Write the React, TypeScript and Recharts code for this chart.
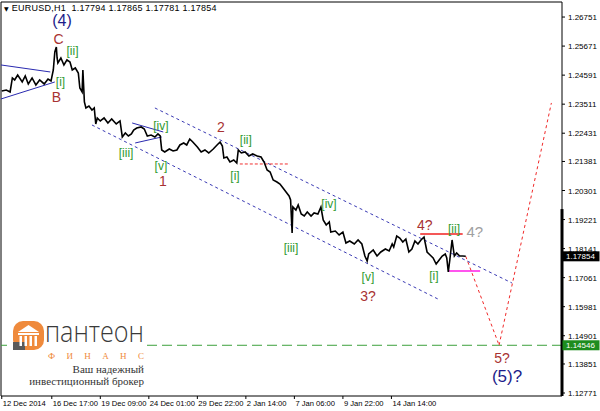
import React from 'react';
import {
  ComposedChart,
  Line,
  XAxis,
  YAxis,
  ReferenceLine,
  ReferenceDot,
  ReferenceArea,
} from 'recharts';

// ---------- data ----------
// EURUSD H1 closes: [bar index, price]
const eurusdH1: [number, number][] = [
  [1, 1.24002], [7, 1.24039], [12, 1.23965], [15, 1.24485], [18, 1.24411], [22, 1.24597],
  [28, 1.24336], [32, 1.2456], [36, 1.24262], [41, 1.24485], [46, 1.24225], [51, 1.24411],
  [57, 1.24262], [62, 1.24448], [66, 1.24374], [69, 1.24783], [71, 1.25452], [73, 1.25638],
  [74, 1.25229], [75, 1.25043], [79, 1.25229], [83, 1.24969], [87, 1.25155], [91, 1.2508],
  [94, 1.24783], [98, 1.24857], [102, 1.24671], [104, 1.24113], [107, 1.23965], [108, 1.24783],
  [110, 1.23593], [112, 1.2337], [116, 1.23444], [120, 1.23295], [123, 1.2337], [125, 1.22775],
  [127, 1.22998], [131, 1.22886], [136, 1.22998], [141, 1.22812], [146, 1.22961], [152, 1.22775],
  [157, 1.22886], [160, 1.22291], [164, 1.2244], [168, 1.22328], [172, 1.22403], [175, 1.22551],
  [179, 1.22626], [185, 1.22663], [189, 1.22589], [193, 1.22328], [198, 1.22365], [203, 1.22291],
  [207, 1.22403], [210, 1.22328], [212, 1.21808], [216, 1.21733], [222, 1.21845], [227, 1.21771],
  [232, 1.21808], [236, 1.21994], [241, 1.22068], [245, 1.21994], [249, 1.22217], [253, 1.22105],
  [259, 1.21919], [264, 1.21733], [269, 1.21808], [274, 1.21696], [280, 1.21845], [285, 1.21994],
  [289, 1.22105], [292, 1.21956], [294, 1.2151], [298, 1.21547], [302, 1.21361], [307, 1.21436],
  [311, 1.21324], [313, 1.21808], [317, 1.21696], [322, 1.21733], [327, 1.21585], [332, 1.21659],
  [338, 1.21585], [343, 1.21547], [347, 1.21361], [351, 1.21064], [355, 1.2099], [359, 1.20692],
  [364, 1.20618], [368, 1.20543], [372, 1.20395], [376, 1.20246], [380, 1.20097], [382, 1.19948],
  [384, 1.18721], [385, 1.19688], [389, 1.19576], [392, 1.19762], [396, 1.19428], [400, 1.19353],
  [404, 1.19502], [409, 1.19353], [413, 1.19465], [418, 1.19428], [422, 1.19688], [425, 1.19205],
  [429, 1.19019], [433, 1.1913], [435, 1.18758], [441, 1.18795], [446, 1.18647], [451, 1.18758],
  [455, 1.18349], [460, 1.18424], [466, 1.18312], [471, 1.18461], [476, 1.18312], [480, 1.17866],
  [483, 1.1768], [485, 1.1794], [491, 1.18089], [496, 1.17866], [501, 1.18015], [507, 1.18126],
  [512, 1.18052], [516, 1.18312], [518, 1.182], [522, 1.1861], [526, 1.18535], [530, 1.18386],
  [534, 1.18498], [538, 1.18015], [542, 1.18126], [546, 1.18424], [550, 1.18312], [554, 1.18461],
  [558, 1.18572], [562, 1.18015], [566, 1.17903], [570, 1.17791], [574, 1.17568], [578, 1.17717],
  [582, 1.17866], [586, 1.1794], [588, 1.17791], [590, 1.17271], [592, 1.17717], [595, 1.18461],
  [598, 1.17866], [601, 1.17977], [605, 1.17866], [609, 1.17866], [613, 1.17854],
];

const xTickBars = [1, 67, 131, 195, 259, 323, 387, 451, 515];
const xTickLabels = [
  '12 Dec 2014', '16 Dec 17:00', '19 Dec 09:00', '24 Dec 01:00', '29 Dec 22:00',
  '2 Jan 14:00', '7 Jan 06:00', '9 Jan 22:00', '14 Jan 14:00',
];
const yTicks = [
  1.12771, 1.13851, 1.14901, 1.15981, 1.17061, 1.18141, 1.19221,
  1.20301, 1.21381, 1.22431, 1.23511, 1.24591, 1.25671, 1.26751,
];

const lastPrice = 1.17854;
const targetLevel = 1.14546;
const headerText = 'EURUSD,H1  1.17794 1.17865 1.17781 1.17854';

// segments: [t1, p1, t2, p2]
const triangleLines: [number, number, number, number][] = [
  [0, 1.24969, 65, 1.24708],
  [0, 1.23704, 71, 1.24336],
  [173, 1.22812, 214, 1.22477],
  [177, 1.22068, 212, 1.22291],
];
const channelLines: [number, number, number, number][] = [
  [203, 1.2337, 674, 1.16862],
  [120, 1.22737, 579, 1.16229],
];
const wave2Level: [number, number, number] = [315, 381, 1.21287];
const wave4Level: [number, number, number] = [553, 609, 1.18684];
const subLevel: [number, number, number] = [590, 632, 1.17308];
const projection: [number, number][] = [
  [613, 1.17854], [657, 1.1455], [726, 1.23556],
];

type Kind = 'navy' | 'red' | 'green' | 'gray' | 'big';
const waveLabels: { text: string; t: number; p: number; kind: Kind }[] = [
  { text: '(4)', t: 80.5, p: 1.26604, kind: 'big' },
  { text: 'C', t: 75.8, p: 1.25936, kind: 'red' },
  { text: '[ii]', t: 94.3, p: 1.25489, kind: 'green' },
  { text: '[i]', t: 78.5, p: 1.24318, kind: 'green' },
  { text: 'B', t: 73.2, p: 1.23779, kind: 'red' },
  { text: '[iv]', t: 211, p: 1.227, kind: 'green' },
  { text: '[iii]', t: 165, p: 1.21696, kind: 'green' },
  { text: '[v]', t: 211, p: 1.21213, kind: 'green' },
  { text: '1', t: 213.7, p: 1.20655, kind: 'red' },
  { text: '2', t: 290, p: 1.22663, kind: 'red' },
  { text: '[ii]', t: 323, p: 1.2218, kind: 'green' },
  { text: '[i]', t: 308.7, p: 1.20841, kind: 'green' },
  { text: '[iii]', t: 382.5, p: 1.18163, kind: 'green' },
  { text: '[iv]', t: 432.7, p: 1.19799, kind: 'green' },
  { text: '[v]', t: 484, p: 1.17085, kind: 'green' },
  { text: '3?', t: 484, p: 1.16378, kind: 'red' },
  { text: '4?', t: 559, p: 1.19019, kind: 'red' },
  { text: '[ii]', t: 597.6, p: 1.1887, kind: 'green' },
  { text: '4?', t: 625, p: 1.18795, kind: 'gray' },
  { text: '[i]', t: 571, p: 1.17122, kind: 'green' },
  { text: '5?', t: 661, p: 1.14073, kind: 'red' },
  { text: '(5)?', t: 667.5, p: 1.13403, kind: 'navy' },
];

// ---------- styles ----------
const FONT = '"Liberation Sans", Arial, sans-serif';
const SERIF = '"Liberation Serif", "DejaVu Serif", serif';
const X_DOMAIN: [number, number] = [0, 740];
const Y_DOMAIN: [number, number] = [1.1266, 1.2731];
const kindStyle: Record<Kind, { fill: string; size: number }> = {
  big: { fill: '#1c1c8a', size: 16 },
  navy: { fill: '#1c1c8a', size: 17 },
  red: { fill: '#a83232', size: 14 },
  green: { fill: '#2f9a2f', size: 12 },
  gray: { fill: '#a0a0a0', size: 15 },
};

const priceData = eurusdH1.map(([t, price]) => ({ t, price }));

function XTick(props: any) {
  const { x, y, payload } = props;
  const i = xTickBars.indexOf(payload.value);
  return (
    <text x={x + 1} y={y + 5} fontSize={7.6} fontFamily={FONT} fill="#000" textAnchor="start">
      {xTickLabels[i]}
    </text>
  );
}

function YTick(props: any) {
  const { x, y, payload } = props;
  return (
    <text x={x} y={y + 3} fontSize={8} fontFamily={FONT} fill="#000" textAnchor="start">
      {payload.value.toFixed(5)}
    </text>
  );
}

function priceTag(value: number, bg: string) {
  return (p: any) => (
    <g>
      <rect x={p.cx + 0.5} y={p.cy - 5} width={37} height={10} fill={bg} />
      <text x={p.cx + 4} y={p.cy + 3} fontSize={8} fontFamily={FONT} fill="#fff">
        {value.toFixed(5)}
      </text>
    </g>
  );
}

function Logo() {
  return (
    <svg width={600} height={411} style={{ position: 'absolute', left: 0, top: 0, pointerEvents: 'none' }}>
      <rect x={12} y={318} width={134} height={70} fill="#fff" />
      <rect x={13} y={321} width={31} height={29} rx={10} fill="#ef8a3c" />
      <rect x={13} y={342} width={12} height={8} fill="#5a5a5a" />
      <polygon points="18,332 28.5,325 39,332" fill="#fff" />
      <rect x={18} y={333} width={21} height={2} fill="#fff" />
      {[19.5, 24.5, 29.5, 34.5].map((cx) => (
        <rect key={cx} x={cx} y={336} width={2.5} height={10} fill="#fff" />
      ))}
      <text
        x={45}
        y={342}
        fontSize={30}
        fontWeight={300}
        fontFamily='"Open Sans", "Noto Sans", sans-serif'
        fill="#3a3a3a"
        textLength={99}
        lengthAdjust="spacingAndGlyphs"
      >
        пантеон
      </text>
      <text x={48} y={359} fontSize={9} fontFamily={SERIF} fill="#ef8a3c" textLength={96} lengthAdjust="spacing">
        ФИНАНС
      </text>
      <text x={144} y={373} fontSize={11} fontFamily={SERIF} fill="#333" textAnchor="end">
        Ваш надежный
      </text>
      <text x={144} y={385} fontSize={11} fontFamily={SERIF} fill="#333" textAnchor="end">
        инвестиционный брокер
      </text>
    </svg>
  );
}

export default function App() {
  return (
    <div style={{ position: 'absolute', left: 0, top: 0, width: 600, height: 411, background: '#fff' }}>
      <ComposedChart
        width={600}
        height={411}
        data={priceData}
        margin={{ top: 2, right: 0, bottom: 0, left: 1 }}
      >
        <XAxis
          dataKey="t"
          type="number"
          domain={X_DOMAIN}
          allowDataOverflow
          ticks={xTickBars}
          interval={0}
          height={15}
          axisLine={false}
          tickLine={{ stroke: '#000' }}
          tickSize={3}
          tickMargin={2}
          tick={<XTick />}
        />
        <YAxis
          orientation="right"
          type="number"
          domain={Y_DOMAIN}
          allowDataOverflow
          ticks={yTicks}
          interval={0}
          width={38}
          axisLine={false}
          tickLine={{ stroke: '#000' }}
          tickSize={3}
          tickMargin={3}
          tick={<YTick />}
        />
        <ReferenceArea
          x1={X_DOMAIN[0]}
          x2={X_DOMAIN[1]}
          y1={Y_DOMAIN[0]}
          y2={Y_DOMAIN[1]}
          fill="none"
          fillOpacity={0}
          stroke="#000"
          strokeWidth={1}
          ifOverflow="visible"
        />
        <ReferenceLine
          y={targetLevel}
          stroke="#3ca03c"
          strokeWidth={1}
          strokeDasharray="10 5"
        />
        {channelLines.map(([t1, p1, t2, p2], i) => (
          <ReferenceLine
            key={'ch' + i}
            segment={[{ x: t1, y: p1 }, { x: t2, y: p2 }]}
            stroke="#3a3ab4"
            strokeWidth={1}
            strokeDasharray="3 3"
          />
        ))}
        {triangleLines.map(([t1, p1, t2, p2], i) => (
          <ReferenceLine
            key={'tr' + i}
            segment={[{ x: t1, y: p1 }, { x: t2, y: p2 }]}
            stroke="#2a2ab0"
            strokeWidth={1}
          />
        ))}
        <ReferenceLine
          segment={[{ x: wave2Level[0], y: wave2Level[2] }, { x: wave2Level[1], y: wave2Level[2] }]}
          stroke="#f03030"
          strokeDasharray="3 2"
        />
        <ReferenceLine
          segment={[{ x: wave4Level[0], y: wave4Level[2] }, { x: wave4Level[1], y: wave4Level[2] }]}
          stroke="#f02020"
          strokeWidth={1.3}
        />
        <ReferenceLine
          segment={[{ x: subLevel[0], y: subLevel[2] }, { x: subLevel[1], y: subLevel[2] }]}
          stroke="#ff55ee"
          strokeWidth={2}
        />
        <ReferenceLine
          segment={[{ x: projection[0][0], y: projection[0][1] }, { x: projection[1][0], y: projection[1][1] }]}
          stroke="#f02828"
          strokeDasharray="3 3"
        />
        <ReferenceLine
          segment={[{ x: projection[1][0], y: projection[1][1] }, { x: projection[2][0], y: projection[2][1] }]}
          stroke="#f02828"
          strokeDasharray="3 3"
        />
        <ReferenceLine
          segment={[{ x: X_DOMAIN[1], y: Y_DOMAIN[0] }, { x: X_DOMAIN[1], y: 1.1961 }]}
          stroke="#000"
          strokeWidth={3}
        />
        <Line
          dataKey="price"
          type="linear"
          stroke="#000"
          strokeWidth={1.6}
          dot={false}
          isAnimationActive={false}
        />
        {waveLabels.map((w, i) => (
          <ReferenceDot
            key={'wl' + i}
            x={w.t}
            y={w.p}
            r={0}
            ifOverflow="visible"
            shape={(p: any) => (
              <text
                x={p.cx}
                y={p.cy}
                textAnchor="middle"
                dominantBaseline="central"
                fontSize={kindStyle[w.kind].size}
                fontFamily={FONT}
                fill={kindStyle[w.kind].fill}
              >
                {w.text}
              </text>
            )}
          />
        ))}
        <ReferenceDot x={X_DOMAIN[1]} y={lastPrice} r={0} ifOverflow="visible" shape={priceTag(lastPrice, '#000')} />
        <ReferenceDot x={X_DOMAIN[1]} y={targetLevel} r={0} ifOverflow="visible" shape={priceTag(targetLevel, '#1e8c1e')} />
      </ComposedChart>
      <Logo />
      <div
        style={{
          position: 'absolute',
          left: 4,
          top: 3,
          fontFamily: FONT,
          fontSize: 9,
          letterSpacing: 0.25,
          whiteSpace: 'pre',
          color: '#000',
          lineHeight: '10px',
        }}
      >
        <span style={{ fontSize: 6, fontFamily: '"DejaVu Sans", sans-serif' }}>▼</span> {headerText}
      </div>
    </div>
  );
}
